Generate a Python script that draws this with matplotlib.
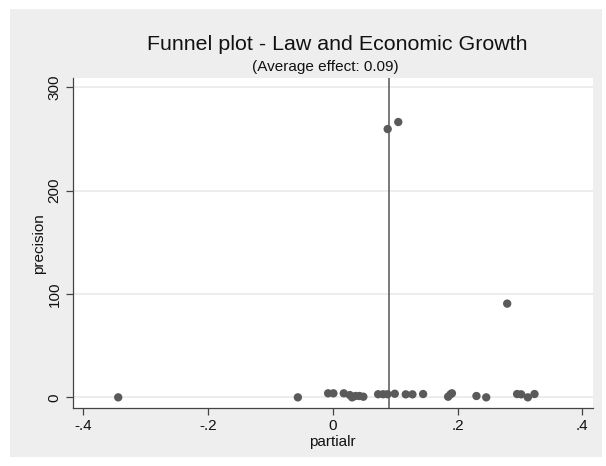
import matplotlib
matplotlib.use("Agg")
import matplotlib.pyplot as plt
from matplotlib.patches import Rectangle

plt.rcParams['font.family'] = ['Liberation Sans', 'DejaVu Sans']

partialr = [-0.344, -0.056, -0.0075, 0.001, 0.0176, 0.0273, 0.031, 0.0364, 0.0428, 0.049,
            0.0727, 0.0807, 0.0877, 0.0994, 0.117, 0.1277, 0.1448, 0.1849, 0.1887, 0.191,
            0.2303, 0.246, 0.2955, 0.302, 0.3127, 0.3234,
            0.088, 0.105, 0.2796]
precision = [0.0, 0.0, 3.9, 3.9, 3.9, 2.2, 0.0, 1.3, 1.3, 0.6,
             3.0, 3.0, 3.0, 3.5, 2.9, 2.9, 3.2, 0.6, 2.9, 3.9,
             1.3, 0.0, 3.2, 2.9, 0.0, 3.2,
             259.6, 266.4, 90.7]
average_effect = 0.09
xticks = [-0.4, -0.2, 0.0, 0.2, 0.4]
xticklabels = ['-.4', '-.2', '0', '.2', '.4']
yticks = [0, 100, 200, 300]
yticklabels = ['0', '100', '200', '300']

W, H = 606, 466
fig = plt.figure(figsize=(W / 100, H / 100), dpi=100, facecolor='white')
fig.patches.append(Rectangle((10 / W, 9 / H), (602 - 10) / W, (457 - 9) / H,
                             transform=fig.transFigure, facecolor='#EEEEEE',
                             edgecolor='none', zorder=-10))

ax = fig.add_axes([72.7 / W, (H - 408.3) / H, (592.7 - 72.7) / W, (408.3 - 78) / H])
ax.set_zorder(5)
ax.set_facecolor('white')
ax.set_xlim(-0.417, 0.4167)
ax.set_ylim(-10.6, 309)

for y in yticks:
    ax.axhline(y, color='#EAEAEA', lw=1.2, zorder=1)
ax.axvline(average_effect, color='#555555', lw=1.1, zorder=2)
ax.scatter(partialr, precision, s=36, color='#5A5A5A', edgecolors='none', zorder=3)

for side in ['top', 'right']:
    ax.spines[side].set_visible(False)
for side in ['left', 'bottom']:
    ax.spines[side].set_color('#444444')
    ax.spines[side].set_linewidth(0.9)

ax.set_xticks(xticks)
ax.set_xticklabels(xticklabels, fontsize=11)
ax.set_yticks(yticks)
ax.set_yticklabels(yticklabels, fontsize=11, rotation=90, va='center')
ax.tick_params(axis='both', direction='out', length=5, width=0.9, color='#444444',
               labelcolor='#111111', pad=3)

ax.set_xlabel('partialr', fontsize=11, color='#111111', labelpad=1)
ax.set_ylabel('precision', fontsize=11, color='#111111', labelpad=1)

fig.text(337 / W, 1 - 44 / H, 'Funnel plot - Law and Economic Growth', ha='center',
         va='center', fontsize=15.4, color='#111111')
fig.text(325 / W, 1 - 67 / H, '(Average effect: 0.09)', ha='center', va='center',
         fontsize=11, color='#111111')

fig.savefig('out.png', dpi=100, facecolor='white')
